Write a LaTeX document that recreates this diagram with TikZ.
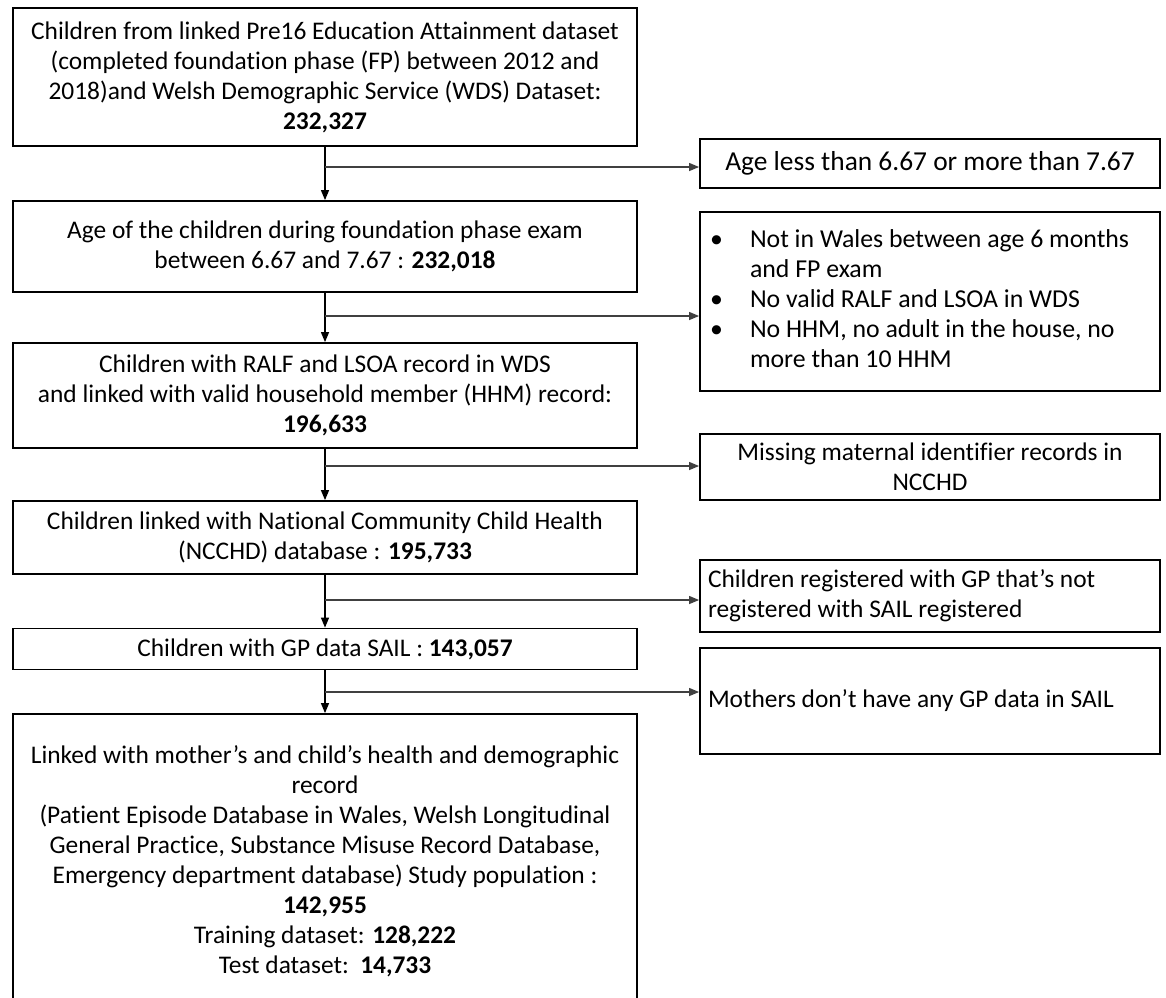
\documentclass[tikz,border=0pt]{standalone}
\usepackage{fontspec}
\setmainfont{Carlito}[Ligatures={TeX,NoCommon}]
\usetikzlibrary{arrows.meta,positioning,calc}

\begin{document}
\begin{tikzpicture}[
  x=0.5pt, y=-0.5pt,
  box/.style={draw=black, line width=0.9pt, align=center,
    font=\fontsize{12.7}{15}\selectfont, inner sep=3pt},
  lbox/.style={box, minimum width=312pt},
  rbox/.style={box, minimum width=230pt},
  bigtext/.style={font=\fontsize{#1}{15}\selectfont},
  leftbox/.style={rbox, inner xsep=#1, text width=230pt-2*#1, align=none},
  arr/.style={-{Triangle[length=5pt,width=4pt]}, line width=0.6pt},
  side/.style={arr, draw=black!75}
]
  \useasboundingbox (0,0) rectangle (1166,997);
  \clip (0,0) rectangle (1166,997);

  % Main column
  \node[lbox, minimum height=69pt] (pre16) at (325,77)
    {Children from linked Pre16 Education Attainment dataset\\
     (completed foundation phase (FP) between 2012 and\\
     2018)and Welsh Demographic Service (WDS) Dataset:\\
     \textbf{232,327}};
  \node[lbox, minimum height=45.5pt] (agerange) at (325,246.5)
    {Age of the children during foundation phase exam\\
     between 6.67 and 7.67 : \textbf{232,018}};
  \node[lbox, minimum height=52.5pt] (ralf) at (325,395.5)
    {Children with RALF and LSOA record in WDS\\
     and linked with valid household member (HHM) record:\\
     \textbf{196,633}};
  \node[lbox, minimum height=36.5pt] (ncchd) at (325,537.5)
    {Children linked with National Community Child Health\\
     (NCCHD) database : \textbf{195,733}};
  \node[lbox, minimum height=20.5pt] (gpdata) at (325,649)
    {Children with GP data SAIL : \textbf{143,057}};
  \node[lbox, minimum height=147pt] (study) at (325,861)
    {Linked with mother’s and child’s health and demographic\\
     record\\
     (Patient Episode Database in Wales, Welsh Longitudinal\\
     General Practice, Substance Misuse Record Database,\\
     Emergency department database) Study population :\\
     \textbf{142,955}\\
     Training dataset: \textbf{128,222}\\
     Test dataset:\ \ \textbf{14,733}};

  % Exclusions
  \node[rbox, bigtext=13.7, minimum height=24.5pt] (agex) at (930,163.5)
    {Age less than 6.67 or more than 7.67};
  \node[leftbox=5pt, bigtext=12.9, minimum height=89.5pt] (notwales) at (930,301.5)
    {\begin{tabular}{@{}p{20pt}@{}l@{}}
     \textbullet & Not in Wales between age 6 months\\
                 & and FP exam\\
     \textbullet & No valid RALF and LSOA in WDS\\
     \textbullet & No HHM, no adult in the house, no\\
                 & more than 10 HHM
     \end{tabular}};
  \node[rbox, minimum height=33pt] (maternal) at (930,467)
    {Missing maternal identifier records in\\ NCCHD};
  \node[leftbox=4pt, minimum height=33pt] (gpnotsail) at (930,596)
    {\begin{tabular}{@{}l@{}}
     Children registered with GP that’s not\\
     registered with SAIL registered
     \end{tabular}};
  \node[leftbox=4pt, minimum height=53pt] (mothersgp) at (930,701)
    {\begin{tabular}{@{}l@{}}
     Mothers don't have any GP data in SAIL
     \end{tabular}};

  % Arrows down
  \draw[arr] (pre16) -- (agerange);
  \draw[arr] (agerange) -- (ralf);
  \draw[arr] (ralf) -- (ncchd);
  \draw[arr] (ncchd) -- (gpdata);
  \draw[arr] (gpdata) -- (study);

  % Branches
  \coordinate (br1) at (325,167);
  \coordinate (br2) at (325,316);
  \coordinate (br3) at (325,466);
  \coordinate (br4) at (325,600);
  \coordinate (br5) at (325,692);
  \draw[side] (br1) -- (br1 -| agex.west);
  \draw[side] (br2) -- (br2 -| notwales.west);
  \draw[side] (br3) -- (br3 -| maternal.west);
  \draw[side] (br4) -- (br4 -| gpnotsail.west);
  \draw[side] (br5) -- (br5 -| mothersgp.west);
\end{tikzpicture}
\end{document}
